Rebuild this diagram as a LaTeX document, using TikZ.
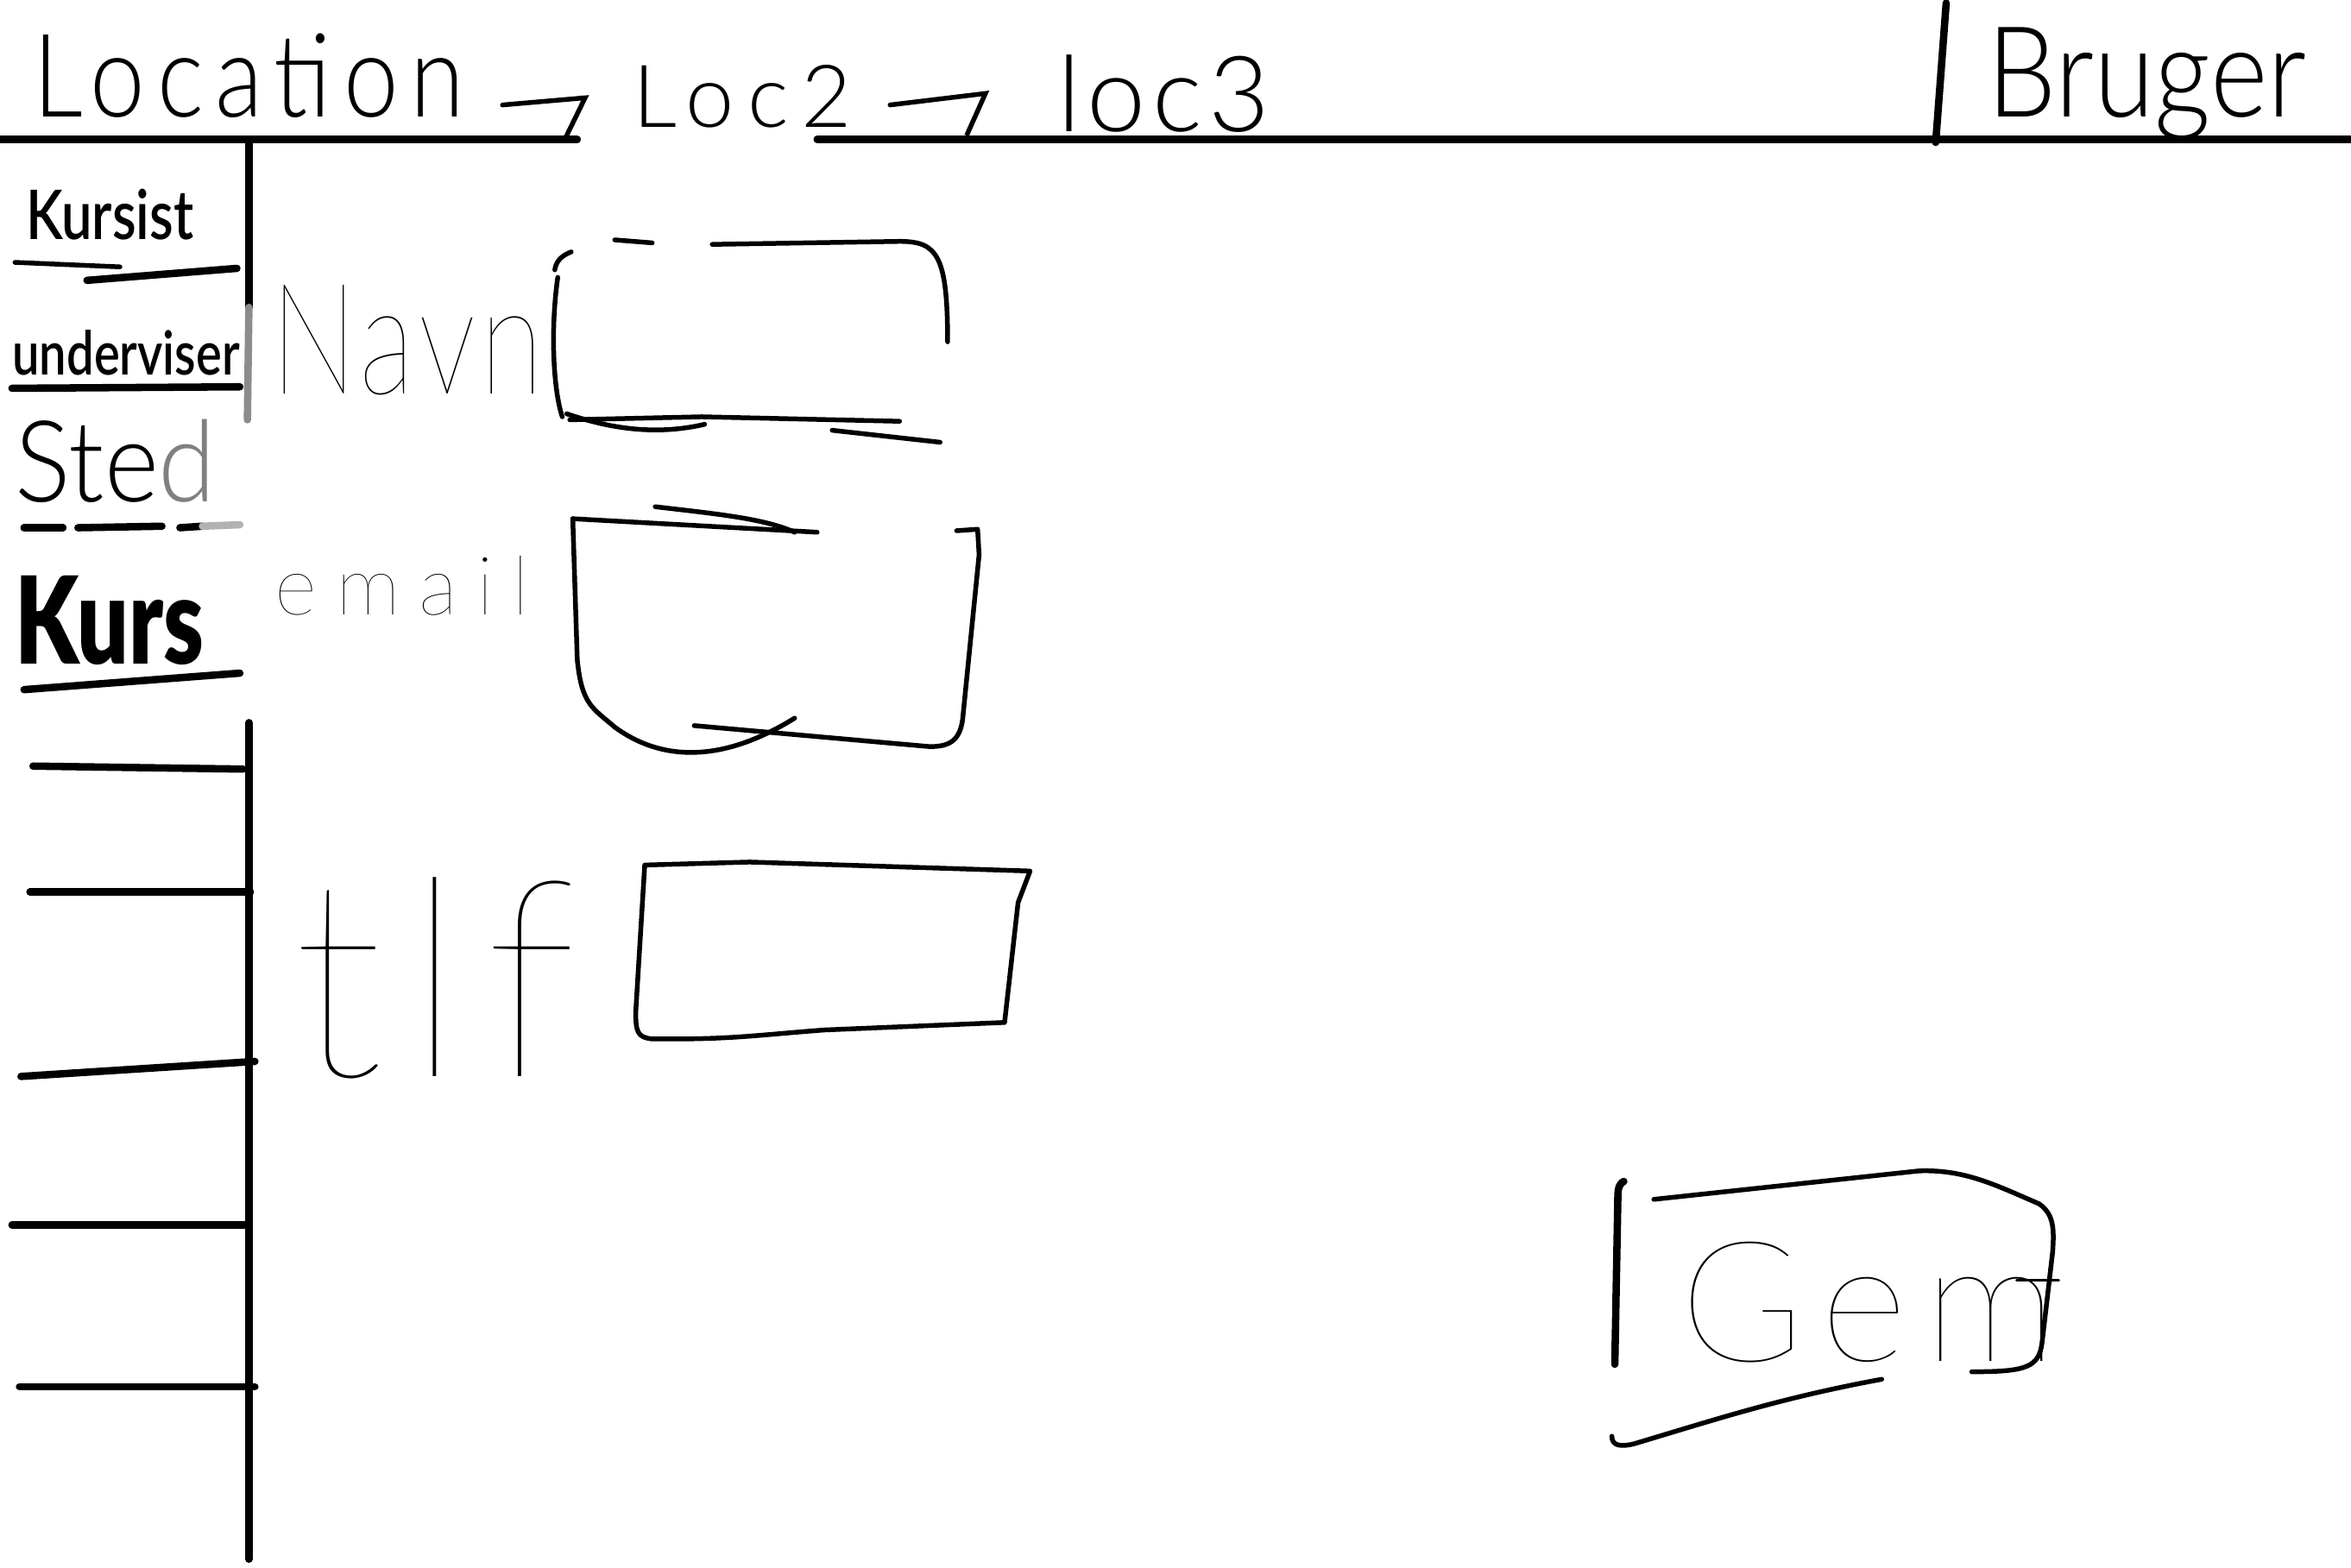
\documentclass[tikz,border=0pt]{standalone}
\usepackage{fontspec}
\usetikzlibrary{arrows.meta}
\setmainfont{Lato Light}
\newfontfamily\heavyfont{Lato Black}
\newfontfamily\thinfont{Lato Thin}
\tikzset{
    rule/.style={line width=2.8pt,line cap=round},
    stroke/.style={line width=1.8pt,line cap=round,line join=round},
    fine/.style={line width=1pt,line cap=round,line join=round},
    hook/.style={stroke,-{Straight Barb[right,length=9pt,width=30pt]}},
    label/.style={inner sep=0pt,anchor=base west,transform shape},
}
\begin{document}
\begin{tikzpicture}[x=0.02cm,y=-0.02cm]
        \useasboundingbox (0,0) rectangle (1568,1045.33);

        % top bar
        \begin{scope}[every node/.style={label}]
            \node[xscale=.85] (loc) at (22,78) {\fontsize{44}{44}\selectfont\addfontfeature{LetterSpace=12}Location};
            \node (loctwo) at (422,85) {\fontsize{33}{33}\selectfont\addfontfeature{LetterSpace=15}Loc2};
            \node (locthree) at (705,88) {\fontsize{40}{40}\selectfont\addfontfeature{LetterSpace=6}loc3};
            \node[xscale=.87] (user) at (1325,78) {\fontsize{48}{48}\selectfont Bruger};
        \end{scope}
        \draw[hook] ([shift={(25,-8)}]loc.base east) -- ([shift={(-29,-20)}]loctwo.base west);
        \draw[hook] ([shift={(25,-15)}]loctwo.base east) -- ([shift={(-45,-26)}]locthree.base west);
        \draw[rule] (0,93) -- (385,93);
        \draw[rule] (545,93) -- (1568,93);
        \draw[rule] (1298,2) -- (1291,95);

        % side menu
        \draw[rule] (166,95) -- (166,205);
        \draw[rule,black!45] (166,205) -- (165,280);
        \draw[rule] (166,482) -- (166,1040);
        \begin{scope}[every node/.style={label}]
            \node[xscale=.8] (student) at (17,160) {\fontsize{26}{26}\selectfont\bfseries Kursist};
            \node[xscale=.8] (teacher) at (8,250) {\fontsize{23}{23}\selectfont\bfseries underviser};
            \node[xscale=.92] (place) at (10,335) {\fontsize{43}{43}\selectfont Ste{\color{black!50}d}};
            \node[xscale=.75] (course) at (10,443) {\fontsize{46}{46}\heavyfont Kurs};
        \end{scope}
        \draw[stroke] (10,175) -- (80,178);
        \draw[rule] (58,187) -- (158,179);
        \draw[rule] (8,259) -- (160,258);
        \draw[rule] (16,352) -- (42,352);
        \draw[rule] (52,352) -- (108,351);
        \draw[rule] (120,352) -- (135,351);
        \draw[rule,black!30] (135,351) -- (160,350);
        \draw[rule] (16,460) -- (160,449);
        \draw[rule] (22,511) -- (162,513);
        \draw[rule] (20,595) -- (167,595);
        \draw[rule] (14,718) -- (170,708);
        \draw[rule] (8,817) -- (163,817);
        \draw[rule] (13,925) -- (170,925);

        % form
        \begin{scope}[every node/.style={label}]
            \node[xscale=.75] (name) at (180,263) {\fontsize{59}{59}\thinfont\addfontfeature{LetterSpace=4}Navn};
            \node (mail) at (183,410) {\fontsize{31}{31}\thinfont\addfontfeature{LetterSpace=23}email};
            \node (phone) at (195,718) {\fontsize{105}{105}\thinfont\addfontfeature{LetterSpace=8}tlf};
        \end{scope}

        % name box
        \draw[stroke] (370,180) .. controls (371,173) and (376,170) .. (381,168);
        \draw[stroke] (410,160) -- (435,162);
        \draw[stroke] (475,163) -- (600,161) .. controls (625,161) and (632,170) .. (632,228);
        \draw[stroke] (372,185) .. controls (367,220) and (369,260) .. (375,278);
        \draw[stroke] (378,276) .. controls (410,287) and (440,290) .. (470,283);
        \draw[stroke] (380,280) -- (468,278) -- (600,281);
        \draw[stroke] (555,287) -- (627,295);

        % email box
        \draw[stroke] (382,346) -- (545,355);
        \draw[stroke] (437,338) .. controls (480,343) and (510,346) .. (530,355);
        \draw[stroke] (638,354) -- (652,353) -- (653,370) -- (642,480)
            .. controls (640,495) and (632,498) .. (620,498) -- (463,484);
        \draw[stroke] (382,346) -- (385,440) .. controls (388,470) and (395,472) .. (410,485)
            .. controls (440,507) and (480,510) .. (530,479);

        % phone box
        \draw[stroke] (430,577) -- (500,575) -- (687,581) -- (679,602) -- (670,682)
            -- (550,687) .. controls (510,690) and (490,693) .. (450,693)
            -- (435,693) .. controls (425,692) and (424,688) .. (424,675) -- cycle;

        % save button
        \draw[rule] (1083,788) .. controls (1079,790) and (1079,795) .. (1079,800) -- (1077,910);
        \draw[stroke] (1103,800) -- (1280,781) .. controls (1310,780) and (1330,790) .. (1360,803)
            .. controls (1370,810) and (1370,820) .. (1369,835) -- (1362,895)
            .. controls (1360,912) and (1352,915) .. (1315,915);
        \draw[stroke] (1255,920) .. controls (1190,932) and (1150,945) .. (1090,963)
            .. controls (1082,965) and (1075,965) .. (1075,958);
        \draw[fine] (1345,854) -- (1373,854);
        \node[label] (save) at (1120,908) {\fontsize{64}{64}\thinfont\addfontfeature{LetterSpace=10}Gem};
    \end{tikzpicture}
\end{document}
